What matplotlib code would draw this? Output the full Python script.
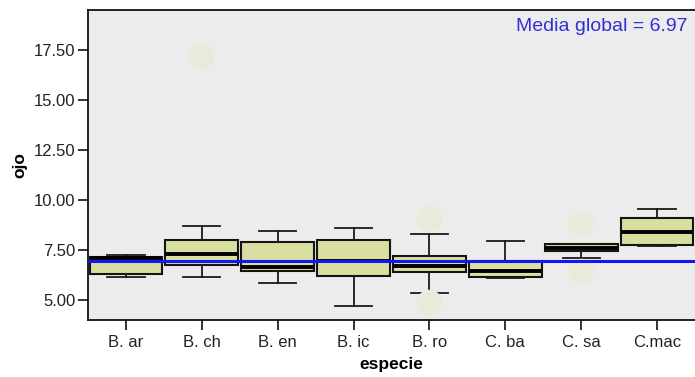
import matplotlib
matplotlib.use("Agg")
import matplotlib.pyplot as plt

plt.rcParams['font.family'] = ['Liberation Sans', 'DejaVu Sans']

species = ["B. ar", "B. ch", "B. en", "B. ic", "B. ro", "C. ba", "C. sa", "C.mac"]
whis_lo = [6.13, 6.13, 5.83, 4.70, 5.37, 6.12, 7.08, 7.67]
q1      = [6.30, 6.75, 6.47, 6.20, 6.38, 6.13, 7.42, 7.75]
median  = [7.08, 7.30, 6.67, 6.97, 6.72, 6.47, 7.60, 8.37]
q3      = [7.13, 8.00, 7.88, 7.97, 7.18, 6.95, 7.78, 9.08]
whis_hi = [7.25, 8.67, 8.42, 8.58, 8.28, 7.95, 7.78, 9.55]
outliers = [[], [17.15], [], [], [9.03, 4.87], [], [8.80, 6.42], []]
global_mean = 6.97
yticks = [5.0, 7.5, 10.0, 12.5, 15.0, 17.5]

fig = plt.figure(figsize=(6.95, 3.77), dpi=100)
fig.patch.set_facecolor("white")
ax = fig.add_axes([0.1266, 0.1512, 0.8734, 0.8236])
ax.set_facecolor("#ececec")

stats = []
for i, name in enumerate(species):
    stats.append(dict(label=name, whislo=whis_lo[i], q1=q1[i], med=median[i],
                      q3=q3[i], whishi=whis_hi[i], fliers=[]))

positions = list(range(len(species)))
ax.bxp(stats, positions=positions, widths=0.96, capwidths=0.49,
       patch_artist=True, showfliers=False,
       boxprops=dict(facecolor="#d9dfa0", edgecolor="#151515", linewidth=1.5),
       medianprops=dict(color="black", linewidth=2.8),
       whiskerprops=dict(color="#1a1a1a", linewidth=1.3),
       capprops=dict(color="#1a1a1a", linewidth=1.3))

for i, vals in enumerate(outliers):
    if vals:
        ax.scatter([positions[i]] * len(vals), vals, s=340, color="#e8ebda",
                   edgecolor="none", zorder=4)

ax.axhline(global_mean, color="#1515f0", linewidth=2.2, zorder=5)
ax.text(0.988, 0.944, "Media global = %.2f" % global_mean, transform=ax.transAxes,
        ha="right", va="center", color="#3030d8", fontsize=14)

ax.set_xlim(-0.5, 7.5)
ax.set_ylim(4.0, 19.5)
ax.set_yticks(yticks)
ax.set_yticklabels(["%.2f" % v for v in yticks])
ax.set_xticks(positions)
ax.set_xticklabels(species)
ax.tick_params(axis="both", direction="out", length=7, width=1.3, color="#222222",
               labelsize=12, labelcolor="#222222")
ax.tick_params(axis="x", pad=4)
ax.tick_params(axis="y", pad=2)
for s in ["left", "top", "bottom"]:
    ax.spines[s].set_linewidth(1.3)
    ax.spines[s].set_color("#111111")
ax.spines["right"].set_visible(False)

ax.set_xlabel("especie", fontsize=12.5, fontweight="bold", labelpad=5)
ax.set_ylabel("ojo", fontsize=12.5, fontweight="bold", labelpad=5)

fig.savefig("out.png", dpi=100, facecolor="white")
